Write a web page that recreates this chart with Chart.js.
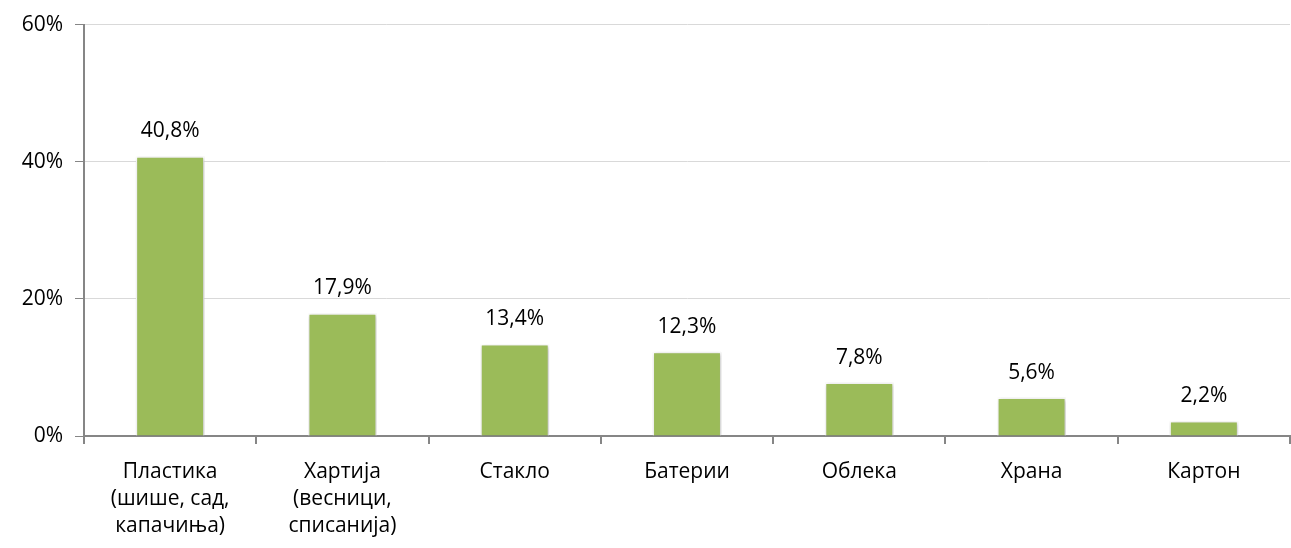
<!DOCTYPE html>
<html>
<head>
<meta charset="utf-8">
<script src="https://cdn.jsdelivr.net/npm/chart.js@4"></script>
<style>
  html, body { margin: 0; padding: 0; background: #fff; }
  #wrap { width: 1291px; height: 548px; }
</style>
</head>
<body>
<div id="wrap"><canvas id="wasteChart"></canvas></div>
<script>
// Chart data
const categories = [
    ['Пластика', '(шише, сад,', 'капачиња)'],
    ['Хартија', '(весници,', 'списанија)'],
    'Стакло',
    'Батерии',
    'Облека',
    'Храна',
    'Картон'
];
const shares = [0.408, 0.179, 0.134, 0.123, 0.078, 0.056, 0.022];
const yTicks = [0, 0.2, 0.4, 0.6];

const fontFamily = "'Open Sans', 'Noto Sans', sans-serif";
const fontSize = 21;

// Draws value labels above each bar
const valueLabels = {
    id: 'valueLabels',
    afterDatasetsDraw(chart) {
        const ctx = chart.ctx;
        const meta = chart.getDatasetMeta(0);
        ctx.save();
        ctx.font = `${fontSize}px ${fontFamily}`;
        ctx.fillStyle = '#000';
        ctx.textAlign = 'center';
        ctx.textBaseline = 'middle';
        meta.data.forEach((bar, i) => {
            const label = (shares[i] * 100).toFixed(1).replace('.', ',') + '%';
            ctx.fillText(label, bar.x, bar.y - 25);
        });
        ctx.restore();
    }
};

// Soft shadow around the bars
const barShadow = {
    id: 'barShadow',
    beforeDatasetsDraw(chart) {
        chart.ctx.save();
        chart.ctx.shadowColor = 'rgba(0,0,0,0.25)';
        chart.ctx.shadowBlur = 4;
        chart.ctx.shadowOffsetX = 1;
        chart.ctx.shadowOffsetY = 1;
    },
    afterDatasetsDraw(chart) {
        chart.ctx.restore();
    }
};

function createChart() {
    const ctx = document.getElementById('wasteChart').getContext('2d');
    new Chart(ctx, {
        type: 'bar',
        data: {
            labels: categories,
            datasets: [{
                data: shares,
                backgroundColor: '#9bbb59',
                borderColor: '#ffffff',
                borderWidth: 1.5,
                categoryPercentage: 0.8,
                barPercentage: 0.5
            }]
        },
        options: {
            responsive: true,
            maintainAspectRatio: false,
            animation: false,
            layout: {
                padding: { top: 21, right: 1, left: 0, bottom: 0 }
            },
            plugins: {
                legend: { display: false },
                tooltip: { enabled: false }
            },
            scales: {
                y: {
                    min: 0,
                    max: 0.6,
                    afterBuildTicks: axis => {
                        axis.ticks = yTicks.map(v => ({ value: v }));
                    },
                    afterFit: axis => { axis.width = 84; },
                    ticks: {
                        callback: v => Math.round(v * 100) + '%',
                        color: '#000',
                        font: { family: fontFamily, size: fontSize },
                        padding: 12
                    },
                    grid: {
                        color: '#d9d9d9',
                        lineWidth: 1,
                        tickColor: '#868686',
                        tickLength: 9
                    },
                    border: { color: '#868686', width: 2 }
                },
                x: {
                    afterFit: axis => { axis.height = 112; },
                    ticks: {
                        color: '#000',
                        font: { family: fontFamily, size: fontSize, lineHeight: 27 / fontSize },
                        padding: 15,
                        maxRotation: 0
                    },
                    grid: {
                        drawOnChartArea: false,
                        tickColor: '#868686',
                        tickLength: 8,
                        lineWidth: 2
                    },
                    border: { color: '#868686', width: 2 }
                }
            }
        },
        plugins: [barShadow, valueLabels]
    });
}

document.addEventListener('DOMContentLoaded', createChart);
</script>
</body>
</html>
